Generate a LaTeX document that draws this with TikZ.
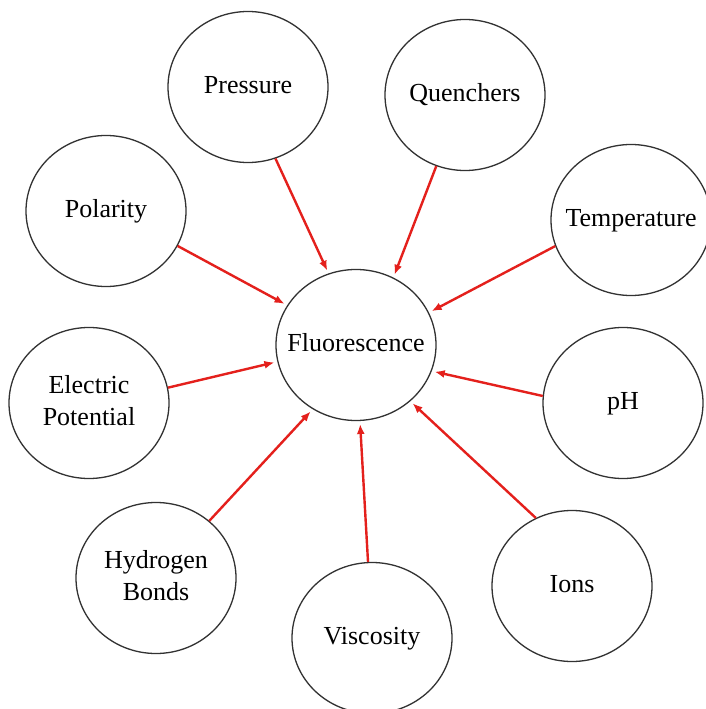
\documentclass[tikz,border=0pt]{standalone}
\usepackage{fontspec}
\setmainfont{Liberation Serif}
\usetikzlibrary{shapes.geometric,arrows.meta}
\definecolor{arrred}{RGB}{228,32,28}
\definecolor{rim}{RGB}{50,50,50}
\newcommand{\ctrtxt}[1]{\makebox[0pt]{\begin{tabular}{@{}c@{}}#1\end{tabular}}}
\tikzset{
  factor/.style={ellipse, draw=rim, line width=1.3pt, minimum width=160pt, minimum height=151pt,
    inner sep=0pt, font=\fontsize{26}{32}\selectfont, fill=white},
  arr/.style={draw=arrred, line width=2.4pt, -{Latex[length=10pt,width=8pt]}, shorten >=3pt}
}
\begin{document}
\begin{tikzpicture}[x=1pt,y=-1pt]
\useasboundingbox (0,0) rectangle (706,709);
\fill[white] (0,0) rectangle (706,709);
\node[factor] (fluor) at (356,345) {\ctrtxt{Fluorescence}};
\node[factor] (pressure) at (248,87) {\ctrtxt{Pressure}};
\node[factor] (quench) at (465,95) {\ctrtxt{Quenchers}};
\node[factor] (polar) at (106,211) {\ctrtxt{Polarity}};
\node[factor] (temp) at (631,220) {\ctrtxt{Temperature}};
\node[factor] (elec) at (89,403) {\ctrtxt{Electric\\Potential}};
\node[factor] (ph) at (623,403) {\ctrtxt{pH}};
\node[factor] (hyd) at (156,578) {\ctrtxt{Hydrogen\\Bonds}};
\node[factor] (visc) at (372,638) {\ctrtxt{Viscosity}};
\node[factor] (ions) at (572,586) {\ctrtxt{Ions}};
\draw[arr] (pressure.-69) -- (fluor.111);
\draw[arr] (polar.-26) -- (fluor.150);
\draw[arr] (quench.-112) -- (fluor.61);
\draw[arr] (temp.-161.6) -- (fluor.24.3);
\draw[arr] (elec.11.9) -- (fluor.-168);
\draw[arr] (ph.175) -- (fluor.-19.4);
\draw[arr] (hyd.47) -- (fluor.-124.5);
\draw[arr] (visc.93) -- (fluor.-87);
\draw[arr] (ions.118) -- (fluor.-46.5);
\end{tikzpicture}
\end{document}
